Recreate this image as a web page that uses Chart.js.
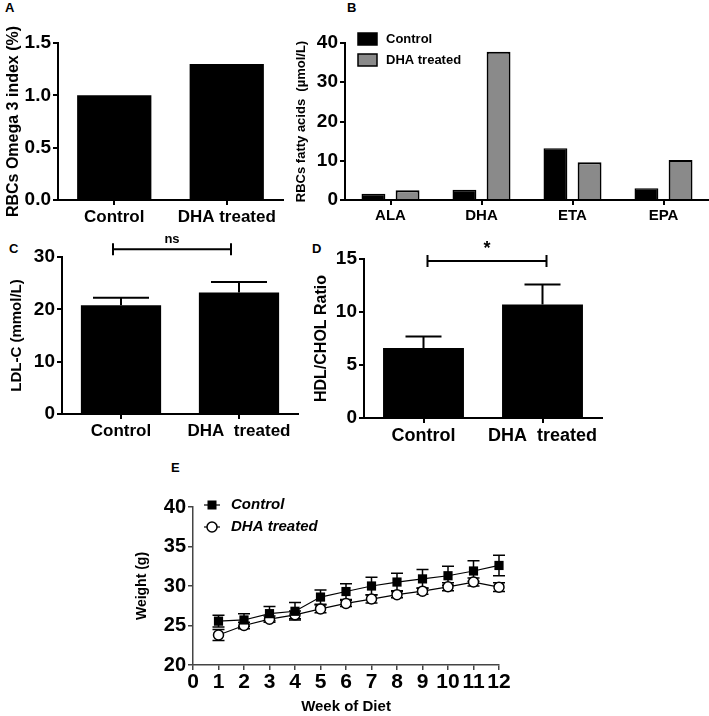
<!DOCTYPE html>
<html>
<head>
<meta charset="utf-8">
<script src="https://cdn.jsdelivr.net/npm/chart.js@4.4.0/dist/chart.umd.min.js"></script>
<style>
  body { margin: 0; background: #fff; width: 709px; height: 716px; position: relative; overflow: hidden; font-family: "Liberation Sans", Arial, sans-serif; }
  canvas { position: absolute; }
  .panel { position: absolute; font-weight: bold; font-size: 13px; line-height: 16px; }
</style>
</head>
<body>
<div class="panel" style="left:5px;top:0px">A</div>
<div class="panel" style="left:347px;top:0px">B</div>
<div class="panel" style="left:9px;top:241px">C</div>
<div class="panel" style="left:312px;top:241px">D</div>
<div class="panel" style="left:171px;top:460px">E</div>

<canvas id="chartA" width="290" height="235" style="left:0;top:0"></canvas>
<canvas id="chartB" width="419" height="235" style="left:290px;top:0"></canvas>
<canvas id="chartC" width="305" height="225" style="left:0;top:225px"></canvas>
<canvas id="chartD" width="404" height="225" style="left:305px;top:225px"></canvas>
<canvas id="chartE" width="440" height="261" style="left:120px;top:455px"></canvas>

<script>
// --- data ---
const groups = ['Control', 'DHA treated'];
const groupsSpaced = ['Control', 'DHA  treated'];
const omega3Index = [1.0, 1.3];

const fattyAcids = ['ALA', 'DHA', 'ETA', 'EPA'];
const faControl = [1.6, 2.6, 13.2, 3.0];
const faDHA = [2.5, 37.8, 9.6, 10.2];

const ldlMean = [20.8, 23.2];
const ldlErr = [1.4, 2.0];
const hdlMean = [6.6, 10.7];
const hdlErr = [1.1, 1.9];

const weeks = [1, 2, 3, 4, 5, 6, 7, 8, 9, 10, 11, 12];
const weightControl = [25.55, 25.7, 26.5, 26.8, 28.6, 29.3, 30.0, 30.5, 30.9, 31.3, 31.9, 32.6];
const weightControlErr = [0.75, 0.8, 0.9, 1.1, 0.9, 1.0, 1.1, 1.1, 1.2, 1.2, 1.3, 1.3];
const weightDHA = [23.8, 25.0, 25.8, 26.35, 27.1, 27.8, 28.35, 28.9, 29.35, 29.9, 30.5, 29.85];
const weightDHAErr = [0.7, 0.4, 0.4, 0.5, 0.5, 0.4, 0.5, 0.4, 0.4, 0.5, 0.5, 0.55];

const FONT = '"Liberation Sans", Arial, sans-serif';
const GREY = '#8a8a8a';

function bold(size, style) {
  return { family: FONT, weight: 'bold', size: size, style: style || 'normal' };
}

// GraphPad-like axis: thick black line, outside ticks, no grid
function axis(tickSize, lineColor, lineWidth, fitSize, isY) {
  return {
    border: { color: lineColor, width: lineWidth },
    grid: { drawOnChartArea: false, offset: false, color: lineColor, lineWidth: lineWidth, tickLength: 5 },
    ticks: { color: '#000', font: bold(tickSize), padding: 2, maxRotation: 0, minRotation: 0, autoSkip: false },
    afterFit(scale) {
      if (isY) scale.width = fitSize; else scale.height = fitSize;
    }
  };
}

function yTitle(text, size, pad) {
  return { display: true, text: text, color: '#000', font: bold(size), padding: { top: pad, bottom: 0 } };
}

const baseOpts = {
  responsive: false,
  animation: false,
  plugins: { legend: { display: false }, tooltip: { enabled: false } }
};

// upper-only error whiskers on bars
function barErrors(errs, capW) {
  return {
    id: 'barErrors',
    afterDatasetsDraw(chart) {
      const ctx = chart.ctx;
      const y = chart.scales.y;
      const data = chart.data.datasets[0].data;
      chart.getDatasetMeta(0).data.forEach((bar, i) => {
        const top = y.getPixelForValue(data[i] + errs[i]);
        ctx.save();
        ctx.strokeStyle = '#000';
        ctx.lineWidth = 2;
        ctx.beginPath();
        ctx.moveTo(bar.x, bar.y);
        ctx.lineTo(bar.x, top);
        ctx.moveTo(bar.x - capW / 2, top);
        ctx.lineTo(bar.x + capW / 2, top);
        ctx.stroke();
        ctx.restore();
      });
    }
  };
}

// significance bracket between the two groups
function bracket(level, label, labelSize, shift) {
  return {
    id: 'bracket',
    afterDraw(chart) {
      const ctx = chart.ctx;
      const x = chart.scales.x;
      const yy = chart.scales.y.getPixelForValue(level);
      const x0 = x.getPixelForValue(0) + shift;
      const x1 = x.getPixelForValue(1) + shift;
      ctx.save();
      ctx.strokeStyle = '#000';
      ctx.lineWidth = 2;
      ctx.beginPath();
      ctx.moveTo(x0, yy); ctx.lineTo(x1, yy);
      ctx.moveTo(x0, yy - 6); ctx.lineTo(x0, yy + 6);
      ctx.moveTo(x1, yy - 6); ctx.lineTo(x1, yy + 6);
      ctx.stroke();
      ctx.fillStyle = '#000';
      ctx.font = 'bold ' + labelSize + 'px ' + FONT;
      ctx.textAlign = 'center';
      ctx.textBaseline = 'bottom';
      ctx.fillText(label, (x0 + x1) / 2, yy - 3);
      ctx.restore();
    }
  };
}

// ---------- A ----------
new Chart(document.getElementById('chartA'), {
  type: 'bar',
  data: {
    labels: groups,
    datasets: [{ data: omega3Index, backgroundColor: '#000', borderWidth: 0, barPercentage: 0.66, categoryPercentage: 1 }]
  },
  options: {
    ...baseOpts,
    layout: { padding: { top: 43, right: 7, left: 0, bottom: 0 } },
    scales: {
      x: { ...axis(17, '#000', 2, 35, false) },
      y: {
        ...axis(19, '#000', 2, 58, true),
        min: 0, max: 1.5,
        ticks: { color: '#000', font: bold(19), padding: 2, stepSize: 0.5, callback: v => v.toFixed(1) },
        title: yTitle('RBCs Omega 3 index (%)', 16, 4)
      }
    }
  }
});

// ---------- B ----------
const legendB = {
  id: 'legendB',
  afterDraw(chart) {
    const ctx = chart.ctx;
    const left = chart.chartArea.left + 13;
    const rows = [['Control', '#000'], ['DHA treated', GREY]];
    ctx.save();
    ctx.font = 'bold 13px ' + FONT;
    ctx.textBaseline = 'middle';
    rows.forEach((r, i) => {
      const cy = 39 + i * 21;
      ctx.fillStyle = r[1];
      ctx.fillRect(left, cy - 6, 19, 12);
      ctx.strokeStyle = '#000';
      ctx.lineWidth = 1.5;
      ctx.strokeRect(left, cy - 6, 19, 12);
      ctx.fillStyle = '#000';
      ctx.fillText(r[0], left + 28, cy);
    });
    ctx.restore();
  }
};

new Chart(document.getElementById('chartB'), {
  type: 'bar',
  data: {
    labels: fattyAcids,
    datasets: [
      { label: 'Control', data: faControl, backgroundColor: '#000', borderColor: '#000', borderWidth: 1.5, barPercentage: 0.7, categoryPercentage: 0.75 },
      { label: 'DHA treated', data: faDHA, backgroundColor: GREY, borderColor: '#000', borderWidth: 2, barPercentage: 0.7, categoryPercentage: 0.75 }
    ]
  },
  options: {
    ...baseOpts,
    layout: { padding: { top: 43, right: 0, left: 0, bottom: 0 } },
    scales: {
      x: { ...axis(15, '#000', 2, 35, false) },
      y: {
        ...axis(19, '#000', 2, 55, true),
        min: 0, max: 40,
        ticks: { color: '#000', font: bold(19), padding: 2, stepSize: 10 },
        title: yTitle('RBCs fatty acids  (\u00b5mol/L)', 13, 4)
      }
    }
  },
  plugins: [legendB]
});

// ---------- C ----------
new Chart(document.getElementById('chartC'), {
  type: 'bar',
  data: {
    labels: groupsSpaced,
    datasets: [{ data: ldlMean, backgroundColor: '#000', borderWidth: 0, barPercentage: 0.68, categoryPercentage: 1 }]
  },
  options: {
    ...baseOpts,
    layout: { padding: { top: 32, right: 7, left: 0, bottom: 0 } },
    scales: {
      x: { ...axis(17, '#000', 2, 36, false) },
      y: {
        ...axis(19, '#000', 2, 62, true),
        min: 0, max: 30,
        ticks: { color: '#000', font: bold(19), padding: 2, stepSize: 10 },
        title: yTitle('LDL-C (mmol/L)', 15, 8)
      }
    }
  },
  plugins: [barErrors(ldlErr, 56), bracket(31.5, 'ns', 13, -8)]
});

// ---------- D ----------
new Chart(document.getElementById('chartD'), {
  type: 'bar',
  data: {
    labels: groupsSpaced,
    datasets: [{ data: hdlMean, backgroundColor: '#000', borderWidth: 0, barPercentage: 0.68, categoryPercentage: 1 }]
  },
  options: {
    ...baseOpts,
    layout: { padding: { top: 34, right: 107, left: 0, bottom: 0 } },
    scales: {
      x: { ...axis(18, '#000', 2, 32, false) },
      y: {
        ...axis(19, '#000', 2, 59, true),
        min: 0, max: 15,
        ticks: { color: '#000', font: bold(19), padding: 2, stepSize: 5 },
        title: yTitle('HDL/CHOL Ratio', 16, 7)
      }
    }
  },
  plugins: [barErrors(hdlErr, 36), bracket(14.8, '*', 18, 4)]
});

// ---------- E ----------
const errorsE = {
  id: 'errorsE',
  beforeDatasetsDraw(chart) {
    const ctx = chart.ctx;
    const x = chart.scales.x, y = chart.scales.y;
    const sets = [[weightControl, weightControlErr], [weightDHA, weightDHAErr]];
    ctx.save();
    ctx.strokeStyle = '#000';
    ctx.lineWidth = 1.5;
    sets.forEach(s => {
      weeks.forEach((w, i) => {
        const px = x.getPixelForValue(w);
        const hi = y.getPixelForValue(s[0][i] + s[1][i]);
        const lo = y.getPixelForValue(s[0][i] - s[1][i]);
        ctx.beginPath();
        ctx.moveTo(px, lo); ctx.lineTo(px, hi);
        ctx.moveTo(px - 6, hi); ctx.lineTo(px + 6, hi);
        ctx.moveTo(px - 6, lo); ctx.lineTo(px + 6, lo);
        ctx.stroke();
      });
    });
    ctx.restore();
  }
};

const legendE = {
  id: 'legendE',
  afterDraw(chart) {
    const ctx = chart.ctx;
    const left = chart.chartArea.left;
    const top = chart.chartArea.top;
    ctx.save();
    ctx.strokeStyle = '#000';
    ctx.lineWidth = 1.2;
    ctx.font = 'italic bold 15px ' + FONT;
    ctx.textBaseline = 'middle';
    [0, 1].forEach(i => {
      const cy = top - 2 + i * 22;
      ctx.beginPath();
      ctx.moveTo(left + 11, cy); ctx.lineTo(left + 27, cy);
      ctx.stroke();
      if (i === 0) {
        ctx.fillStyle = '#000';
        ctx.fillRect(left + 14.5, cy - 4.5, 9, 9);
      } else {
        ctx.beginPath();
        ctx.arc(left + 19, cy, 5, 0, Math.PI * 2);
        ctx.fillStyle = '#fff';
        ctx.fill();
        ctx.lineWidth = 1.5;
        ctx.stroke();
      }
      ctx.fillStyle = '#000';
      ctx.fillText(i === 0 ? 'Control' : 'DHA treated', left + 38, cy);
    });
    ctx.restore();
  }
};

new Chart(document.getElementById('chartE'), {
  type: 'line',
  data: {
    datasets: [
      {
        label: 'Control',
        data: weeks.map((w, i) => ({ x: w, y: weightControl[i] })),
        borderColor: '#000', borderWidth: 1.2, clip: false,
        pointStyle: 'rect', pointRadius: 6.5,
        pointBackgroundColor: '#000', pointBorderColor: '#000', pointBorderWidth: 0
      },
      {
        label: 'DHA treated',
        data: weeks.map((w, i) => ({ x: w, y: weightDHA[i] })),
        borderColor: '#000', borderWidth: 1.2, clip: false,
        pointStyle: 'circle', pointRadius: 5,
        pointBackgroundColor: '#fff', pointBorderColor: '#000', pointBorderWidth: 1.5
      }
    ]
  },
  options: {
    ...baseOpts,
    layout: { padding: { top: 52, right: 61, left: 0, bottom: 0 } },
    scales: {
      x: {
        ...axis(21, '#444', 1.5, 51, false),
        type: 'linear', min: 0, max: 12,
        ticks: { color: '#000', font: bold(21), padding: 0, stepSize: 1, maxRotation: 0, minRotation: 0, autoSkip: false },
        title: { display: true, text: 'Week of Diet', color: '#000', font: bold(15), padding: { top: 0, bottom: 0 } }
      },
      y: {
        ...axis(20, '#444', 1.5, 73, true),
        min: 20, max: 40,
        ticks: { color: '#000', font: bold(20), padding: 2, stepSize: 5 },
        title: yTitle('Weight (g)', 14, 14)
      }
    }
  },
  plugins: [errorsE, legendE]
});
</script>
</body>
</html>
